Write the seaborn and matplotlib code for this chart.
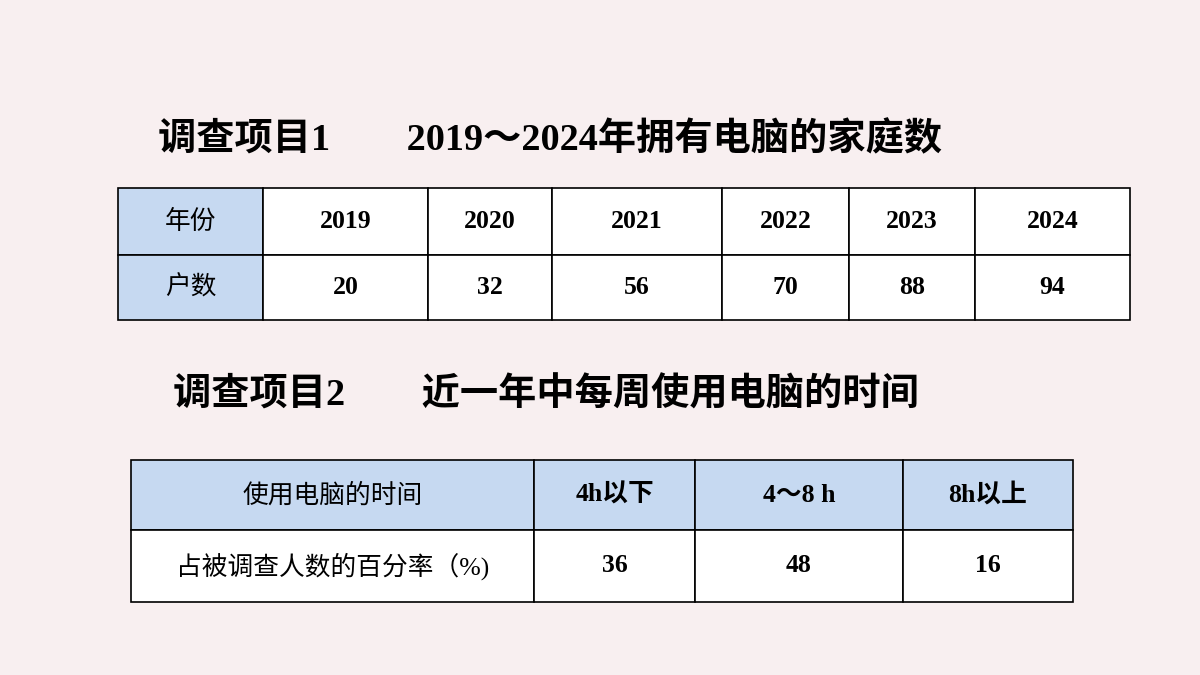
import matplotlib
matplotlib.use("Agg")
import matplotlib.pyplot as plt
from matplotlib.patches import Rectangle
import seaborn as sns

# data
years = ["2019", "2020", "2021", "2022", "2023", "2024"]
households = [20, 32, 56, 70, 88, 94]
time_cats = ["4h以下", "4～8 h", "8h以上"]
percents = [36, 48, 16]

title1 = "调查项目1\u3000\u30002019～2024年拥有电脑的家庭数"
title2 = "调查项目2\u3000\u3000近一年中每周使用电脑的时间"

sns.set_theme(style="white")
plt.rcParams['font.family'] = ['Liberation Serif', 'Noto Sans CJK SC', 'DejaVu Sans']

BG = "#f8eff0"
BLUE = "#c6d9f1"
fig = plt.figure(figsize=(12, 6.75), dpi=100, facecolor=BG)
ax = fig.add_axes([0, 0, 1, 1])
ax.set_xlim(0, 1200)
ax.set_ylim(675, 0)
ax.axis("off")
ax.set_facecolor(BG)


def cell(x0, x1, y0, y1, text, fill, bold=True, size=18.5):
    ax.add_patch(Rectangle((x0, y0), x1 - x0, y1 - y0, facecolor=fill,
                           edgecolor="black", linewidth=1.2))
    ax.text((x0 + x1) / 2, (y0 + y1) / 2, text, ha="center", va="center",
            fontsize=size, fontweight="bold" if bold else "normal", color="black")


# first section
ax.text(158, 140, title1, fontsize=27.5, fontweight="bold", va="center", ha="left",
        color="black")
cols1 = [118, 263, 428, 552, 722, 849, 975, 1130]
rows1 = [188, 255, 320]
cell(cols1[0], cols1[1], rows1[0], rows1[1], "年份", BLUE, bold=False)
cell(cols1[0], cols1[1], rows1[1], rows1[2], "户数", BLUE, bold=False)
for i, (yr, n) in enumerate(zip(years, households)):
    x0, x1 = cols1[i + 1], cols1[i + 2]
    cell(x0, x1, rows1[0], rows1[1], yr, "white")
    cell(x0, x1, rows1[1], rows1[2], str(n), "white")

# second section
ax.text(173, 395, title2, fontsize=27.5, fontweight="bold", va="center", ha="left",
        color="black")
cols2 = [131, 534, 695, 903, 1073]
rows2 = [460, 530, 602]
cell(cols2[0], cols2[1], rows2[0], rows2[1], "使用电脑的时间", BLUE, bold=False)
cell(cols2[0], cols2[1], rows2[1], rows2[2], "占被调查人数的百分率（%)", "white", bold=False)
for i, (c, p) in enumerate(zip(time_cats, percents)):
    cell(cols2[i + 1], cols2[i + 2], rows2[0], rows2[1], c, BLUE)
    cell(cols2[i + 1], cols2[i + 2], rows2[1], rows2[2], str(p), "white")

fig.savefig("out.png", dpi=100, facecolor=BG)
